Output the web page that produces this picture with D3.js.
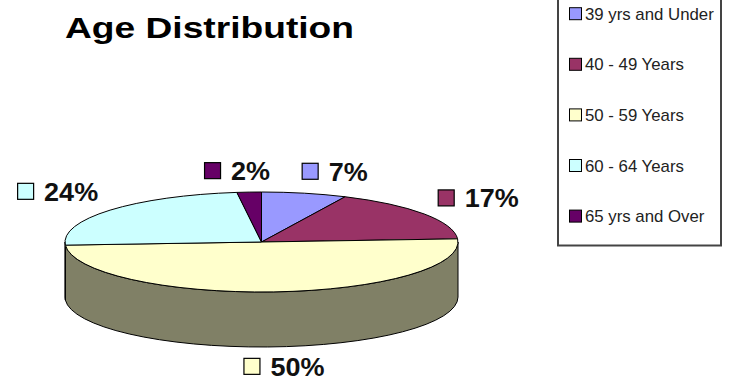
<!DOCTYPE html>
<html>
<head>
<meta charset="utf-8">
<script src="https://cdn.jsdelivr.net/npm/d3@7"></script>
<style>
  body { margin: 0; background: #fff; }
  text { font-family: "Liberation Sans", Arial, sans-serif; }
</style>
</head>
<body>
<script>
// chart data
var categories = ["39 yrs and Under", "40 - 49 Years", "50 - 59 Years", "60 - 64 Years", "65 yrs and Over"];
var values = [7, 17, 50, 24, 2];
var topColors = ["#9999ff", "#993366", "#ffffcc", "#ccffff", "#660066"];
var sideColors = ["#4d4d80", "#4d1a33", "#808066", "#668080", "#330033"];
var titleText = "Age Distribution";

// small nudges so the top labels don't crowd, like excel does
var labelNudge = [16, 0, 6, -2, -8];
var labelNudgeY = [2, -2, -4, -3, 3];

var width = 734, height = 383,
    cx = 261.5, cy = 242,
    rx = 196.5, ry = 50,
    depth = 55,
    labelRx = 262, labelRy = 74;

var svg = d3.select("body").append("svg")
            .attr("width", width)
            .attr("height", height);

var total = d3.sum(values);
var fmt = d3.format(".0%");

var slices = d3.pie().sort(null).value(function(d) { return d; })(values);

function pt(a, dy) {
    return [cx + rx * Math.sin(a), cy - ry * Math.cos(a) + (dy || 0)];
}

// sides first (only the front half is visible)
slices.forEach(function(d, i) {
    var a0 = Math.max(d.startAngle, Math.PI / 2),
        a1 = Math.min(d.endAngle, Math.PI * 3 / 2);
    if (a1 <= a0) { return; }
    var p0 = pt(a0), p1 = pt(a1), q1 = pt(a1, depth), q0 = pt(a0, depth);
    var path = "M" + p0 + " A" + rx + "," + ry + " 0 0 1 " + p1 +
               " L" + q1 + " A" + rx + "," + ry + " 0 0 0 " + q0 + " Z";
    svg.append("path")
       .attr("d", path)
       .style("fill", sideColors[i])
       .style("stroke", "#000")
       .style("stroke-width", 1);
});

// top face
svg.selectAll(".slice")
   .data(slices)
   .enter()
   .append("path")
   .attr("class", "slice")
   .attr("d", function(d) {
       var p0 = pt(d.startAngle), p1 = pt(d.endAngle),
           large = (d.endAngle - d.startAngle) > Math.PI ? 1 : 0;
       return "M" + cx + "," + cy + " L" + p0 + " A" + rx + "," + ry + " 0 " + large + " 1 " + p1 + " Z";
   })
   .style("fill", function(d, i) { return topColors[i]; })
   .style("stroke", "#000")
   .style("stroke-width", 1)
   .style("stroke-linejoin", "round");

// percent labels
var labelSx = 1.08, boxSize = 16, boxGap = 11;
slices.forEach(function(d, i) {
    var mid = (d.startAngle + d.endAngle) / 2;
    var lx = cx + labelRx * Math.sin(mid) + labelNudge[i],
        ly = cy - labelRy * Math.cos(mid) + (Math.cos(mid) < 0 ? depth : 0) + labelNudgeY[i];

    var g = svg.append("g").attr("class", "pctLabel");
    var t = g.append("text")
             .attr("transform", "scale(" + labelSx + ",1)")
             .attr("y", 9)
             .style("font-size", "25px")
             .style("font-weight", "bold")
             .style("fill", "#111")
             .text(fmt(values[i] / total));
    var tw = t.node().getComputedTextLength() * labelSx;
    var totalW = boxSize + boxGap + tw;
    var x0 = lx - totalW / 2;

    g.append("rect")
     .attr("x", 0.5)
     .attr("y", -8.5)
     .attr("width", boxSize)
     .attr("height", boxSize)
     .style("fill", topColors[i])
     .style("stroke", "#000")
     .style("stroke-width", 1.2);

    t.attr("x", (boxSize + boxGap) / labelSx);
    g.attr("transform", "translate(" + x0 + "," + ly + ")");
});

// title
svg.append("text")
   .attr("x", 65)
   .attr("y", 37.5)
   .attr("textLength", 289)
   .attr("lengthAdjust", "spacingAndGlyphs")
   .style("font-size", "29px")
   .style("font-weight", "bold")
   .style("fill", "#000")
   .text(titleText);

// legend
var legend = svg.append("g").attr("class", "legend");
legend.append("rect")
      .attr("x", 558)
      .attr("y", -5)
      .attr("width", 163)
      .attr("height", 250.5)
      .style("fill", "#fff")
      .style("stroke", "#444")
      .style("stroke-width", 2);

var rows = legend.selectAll(".legendRow")
                 .data(categories)
                 .enter()
                 .append("g")
                 .attr("class", "legendRow")
                 .attr("transform", function(d, i) { return "translate(569," + (13.7 + i * 50.6) + ")"; });

rows.append("rect")
    .attr("x", 0.5)
    .attr("y", -6)
    .attr("width", 12)
    .attr("height", 12)
    .style("fill", function(d, i) { return topColors[i]; })
    .style("stroke", "#000")
    .style("stroke-width", 1);

rows.append("text")
    .attr("transform", "translate(16,6) scale(1.05,1)")
    .style("font-size", "16px")
    .style("fill", "#222")
    .text(function(d) { return d; });
</script>
</body>
</html>
